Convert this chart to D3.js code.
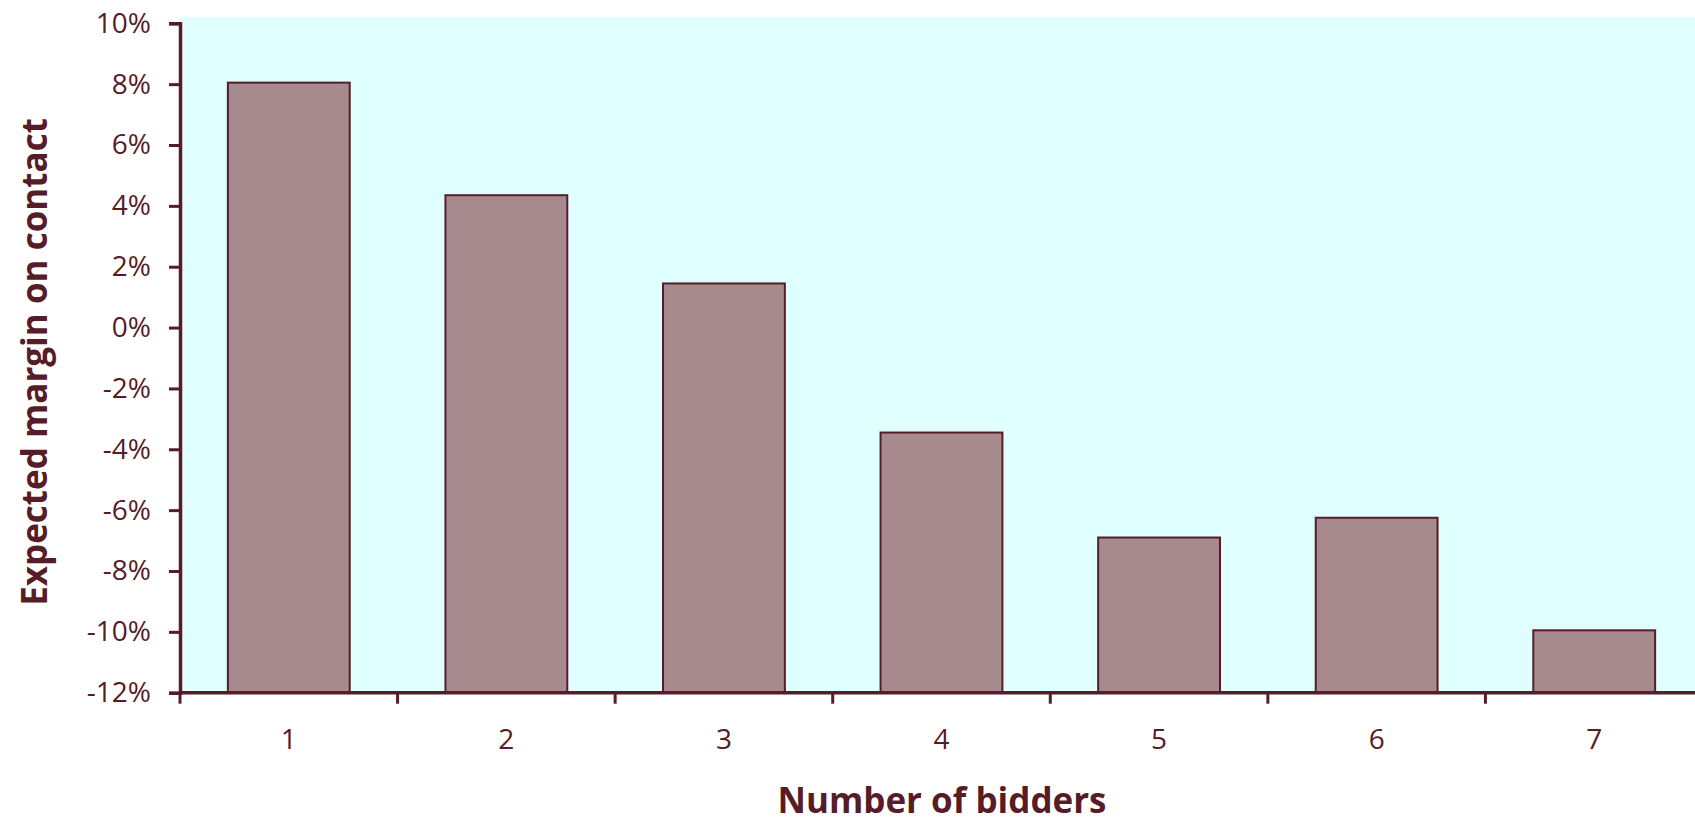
<!DOCTYPE html>
<html>
<head>
<meta charset="utf-8">
<script src="https://cdn.jsdelivr.net/npm/d3@7"></script>
<style>
  body { margin: 0; background: #fff; }
  text { font-family: "Open Sans", "Noto Sans", sans-serif; fill: #561c27; }
</style>
</head>
<body>
<div id="chart"></div>
<script>
var bidders = ["1", "2", "3", "4", "5", "6", "7"];
var margins = [8.05, 4.35, 1.45, -3.45, -6.9, -6.25, -9.95];
var yTicks = [10, 8, 6, 4, 2, 0, -2, -4, -6, -8, -10, -12];

var width = 1695, height = 824;
var dark = "#561c27";

var svg = d3.select("#chart")
  .append("svg")
  .attr("width", width)
  .attr("height", height);

// the plot runs past the right edge of the picture
var x = d3.scaleBand()
  .domain(bidders)
  .range([180, 1703])
  .paddingInner(0.44)
  .paddingOuter(0.22);

var y = d3.scaleLinear()
  .domain([-12, 10])
  .range([692.7, 23.3]);

// plot background
svg.append("rect")
  .attr("x", 180)
  .attr("y", 17.5)
  .attr("width", 1703 - 180)
  .attr("height", 692.7 - 17.5)
  .attr("fill", "#e0ffff");

// bars
svg.selectAll("rect.bar")
  .data(margins)
  .enter()
  .append("rect")
  .attr("class", "bar")
  .attr("x", (d, i) => x(bidders[i]))
  .attr("width", x.bandwidth())
  .attr("y", d => y(d))
  .attr("height", d => y(-12) - y(d))
  .attr("fill", "#a68a8d")
  .attr("stroke", dark)
  .attr("stroke-width", 2);

// y axis
var yAxis = svg.append("g")
  .attr("transform", "translate(180,0)")
  .call(d3.axisLeft(y).tickValues(yTicks).tickSize(11).tickPadding(18)
    .tickFormat(d => d + "%"));

// x axis (ticks at band edges)
var xAxis = svg.append("g")
  .attr("transform", "translate(0," + y(-12) + ")");

xAxis.append("line")
  .attr("x1", 180).attr("x2", 1703)
  .attr("stroke", dark).attr("stroke-width", 3.5);

xAxis.selectAll("line.tick")
  .data(bidders)
  .enter()
  .append("line")
  .attr("class", "tick")
  .attr("x1", d => x(d) - x.step() * x.paddingOuter())
  .attr("x2", d => x(d) - x.step() * x.paddingOuter())
  .attr("y1", 0).attr("y2", 11)
  .attr("stroke", dark).attr("stroke-width", 3);

xAxis.selectAll("text")
  .data(bidders)
  .enter()
  .append("text")
  .attr("x", d => x(d) + x.bandwidth() / 2)
  .attr("y", 56)
  .attr("text-anchor", "middle")
  .style("font-size", "28px")
  .text(d => d);

yAxis.select(".domain").attr("stroke", dark).attr("stroke-width", 3.5);
yAxis.selectAll(".tick line").attr("stroke", dark).attr("stroke-width", 3);
yAxis.selectAll(".tick text")
  .style("font-size", "28px")
  .style("font-family", "'Open Sans', 'Noto Sans', sans-serif")
  .attr("fill", dark);

// axis titles
svg.append("text")
  .attr("x", 942)
  .attr("y", 813)
  .attr("text-anchor", "middle")
  .style("font-size", "35px")
  .style("font-weight", "bold")
  .text("Number of bidders");

svg.append("text")
  .attr("transform", "translate(47,362) rotate(-90)")
  .attr("text-anchor", "middle")
  .style("font-size", "35px")
  .style("font-weight", "bold")
  .text("Expected margin on contact");
</script>
</body>
</html>
